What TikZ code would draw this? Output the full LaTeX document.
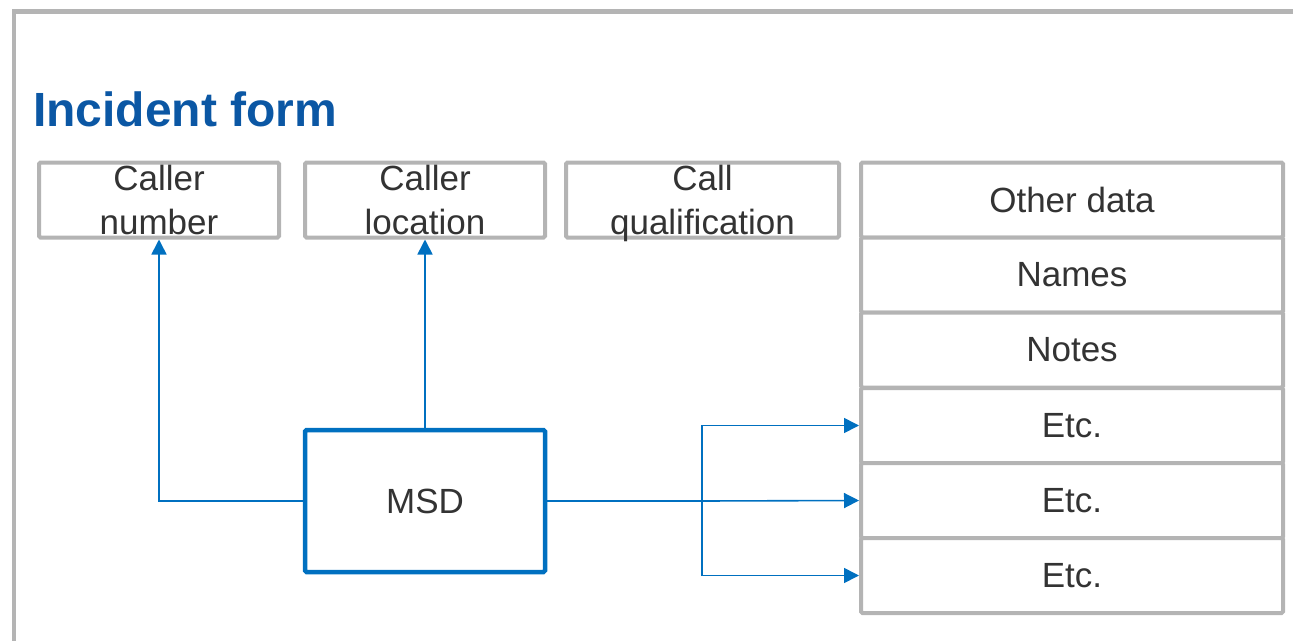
\documentclass[tikz,border=0pt]{standalone}
\usepackage{fontspec}
\setmainfont{Liberation Sans}
\usetikzlibrary{arrows.meta}
\definecolor{framegray}{HTML}{B4B4B4}
\definecolor{titleblue}{HTML}{0B57A4}
\definecolor{msdblue}{HTML}{0070C0}
\definecolor{textgray}{HTML}{333333}

\begin{document}
\begin{tikzpicture}[x=1pt,y=-1pt,
  field/.style={draw=framegray, line width=4pt, rounded corners=1.5pt, fill=white,
    text=textgray, font=\fontsize{35}{44}\selectfont, align=center,
    inner sep=0pt, minimum height=75pt},
  topfield/.style={field, minimum width=240pt},
  rowfield/.style={field, minimum width=422pt},
  link/.style={draw=msdblue, line width=1.6pt},
  arr/.style={link, -{Triangle[length=15pt,width=15pt]}}]

\useasboundingbox (0,0) rectangle (1293,640);
\clip (0,0) rectangle (1293,640);

% outer frame, running off the right and bottom edges
\draw[framegray, line width=4.5pt] (14,700) -- (14,11.5) -- (1340,11.5);

% heading
\node[anchor=base west, inner sep=0pt, text=titleblue,
      font=\bfseries\fontsize{48}{58}\selectfont] (title) at (33,126) {Incident form};

% top row of form fields
\node[topfield] (cn) at (159,200) {Caller\\number};
\node[topfield] (cl) at (425,200) {Caller\\location};
\node[field, minimum width=273pt] (cq) at (702.5,200)
  {Call\\\raisebox{0pt}[\height][0pt]{qualification}};

% right-hand column of fields
\node[rowfield] (r1) at (1072,200)   {Other data};
\node[rowfield] (r2) at (1072,275)   {Names};
\node[rowfield] (r3) at (1072,350)   {Notes};
\node[rowfield] (r4) at (1072,425.5) {Etc.};
\node[rowfield] (r5) at (1072,500.5) {Etc.};
\node[rowfield] (r6) at (1072,575.5) {Etc.};

% minimum set of data
\node[draw=msdblue, line width=4.5pt, rounded corners=1.5pt, fill=white,
      minimum width=240pt, minimum height=142pt, inner sep=0pt,
      text=textgray, font=\fontsize{35}{42}\selectfont] (msd) at (425,501) {MSD};

% connectors
\draw[arr] (msd.west) -| (cn.south);
\draw[arr] (msd.north) -- (cl.south);
\coordinate (split) at (702,501);
\draw[link] (msd.east) -- (split);
\draw[arr] (split) |- (r4.west);
\draw[arr] (split) -- (r5.west);
\draw[arr] (split) |- (r6.west);
\end{tikzpicture}
\end{document}
